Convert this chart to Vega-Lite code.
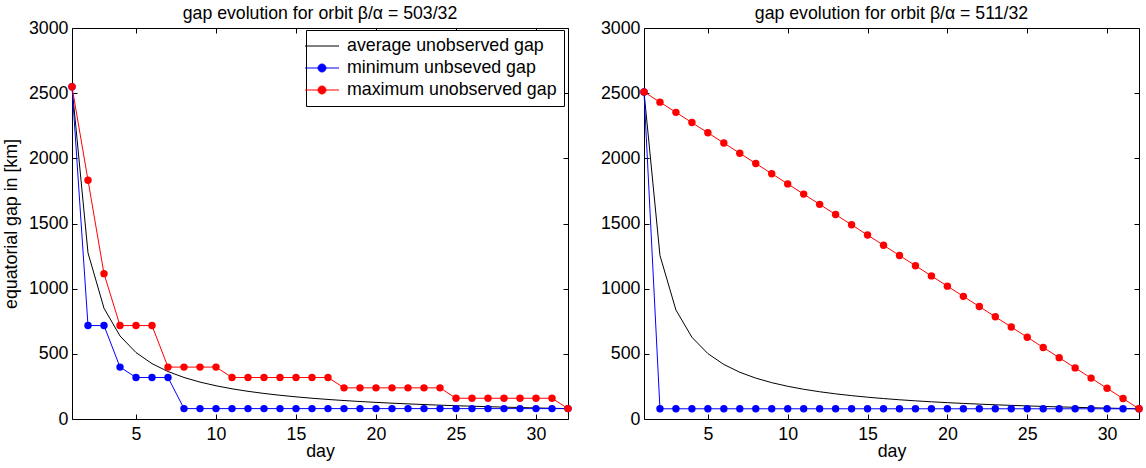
{
  "$schema": "https://vega.github.io/schema/vega-lite/v6.json",
  "padding": {"left": 2, "top": 5, "right": 0, "bottom": 0},
  "datasets": {
    "g503": [
      {"day": 1, "avg": 2549, "min": 2549, "max": 2549},
      {"day": 2, "avg": 1274.5, "min": 716.9, "max": 1832.2},
      {"day": 3, "avg": 849.7, "min": 716.9, "max": 1115.2},
      {"day": 4, "avg": 637.3, "min": 398.3, "max": 716.9},
      {"day": 5, "avg": 509.8, "min": 318.6, "max": 716.9},
      {"day": 6, "avg": 424.8, "min": 318.6, "max": 716.9},
      {"day": 7, "avg": 364.1, "min": 318.6, "max": 398.3},
      {"day": 8, "avg": 318.6, "min": 79.7, "max": 398.3},
      {"day": 9, "avg": 283.2, "min": 79.7, "max": 398.3},
      {"day": 10, "avg": 254.9, "min": 79.7, "max": 398.3},
      {"day": 11, "avg": 231.7, "min": 79.7, "max": 318.6},
      {"day": 12, "avg": 212.4, "min": 79.7, "max": 318.6},
      {"day": 13, "avg": 196.1, "min": 79.7, "max": 318.6},
      {"day": 14, "avg": 182.1, "min": 79.7, "max": 318.6},
      {"day": 15, "avg": 169.9, "min": 79.7, "max": 318.6},
      {"day": 16, "avg": 159.3, "min": 79.7, "max": 318.6},
      {"day": 17, "avg": 149.9, "min": 79.7, "max": 318.6},
      {"day": 18, "avg": 141.6, "min": 79.7, "max": 239.0},
      {"day": 19, "avg": 134.2, "min": 79.7, "max": 239.0},
      {"day": 20, "avg": 127.5, "min": 79.7, "max": 239.0},
      {"day": 21, "avg": 121.4, "min": 79.7, "max": 239.0},
      {"day": 22, "avg": 115.9, "min": 79.7, "max": 239.0},
      {"day": 23, "avg": 110.8, "min": 79.7, "max": 239.0},
      {"day": 24, "avg": 106.2, "min": 79.7, "max": 239.0},
      {"day": 25, "avg": 102.0, "min": 79.7, "max": 159.3},
      {"day": 26, "avg": 98.0, "min": 79.7, "max": 159.3},
      {"day": 27, "avg": 94.4, "min": 79.7, "max": 159.3},
      {"day": 28, "avg": 91.0, "min": 79.7, "max": 159.3},
      {"day": 29, "avg": 87.9, "min": 79.7, "max": 159.3},
      {"day": 30, "avg": 85.0, "min": 79.7, "max": 159.3},
      {"day": 31, "avg": 82.2, "min": 79.7, "max": 159.3},
      {"day": 32, "avg": 79.7, "min": 79.7, "max": 79.7}
    ],
    "g511": [
      {"day": 1, "avg": 2509.6, "min": 2509.6, "max": 2509.6},
      {"day": 2, "avg": 1254.8, "min": 78.4, "max": 2431.2},
      {"day": 3, "avg": 836.5, "min": 78.4, "max": 2352.8},
      {"day": 4, "avg": 627.4, "min": 78.4, "max": 2274.3},
      {"day": 5, "avg": 501.9, "min": 78.4, "max": 2195.9},
      {"day": 6, "avg": 418.3, "min": 78.4, "max": 2117.5},
      {"day": 7, "avg": 358.5, "min": 78.4, "max": 2039.1},
      {"day": 8, "avg": 313.7, "min": 78.4, "max": 1960.6},
      {"day": 9, "avg": 278.8, "min": 78.4, "max": 1882.2},
      {"day": 10, "avg": 251.0, "min": 78.4, "max": 1803.8},
      {"day": 11, "avg": 228.1, "min": 78.4, "max": 1725.4},
      {"day": 12, "avg": 209.1, "min": 78.4, "max": 1646.9},
      {"day": 13, "avg": 193.0, "min": 78.4, "max": 1568.5},
      {"day": 14, "avg": 179.3, "min": 78.4, "max": 1490.1},
      {"day": 15, "avg": 167.3, "min": 78.4, "max": 1411.7},
      {"day": 16, "avg": 156.9, "min": 78.4, "max": 1333.2},
      {"day": 17, "avg": 147.6, "min": 78.4, "max": 1254.8},
      {"day": 18, "avg": 139.4, "min": 78.4, "max": 1176.4},
      {"day": 19, "avg": 132.1, "min": 78.4, "max": 1098.0},
      {"day": 20, "avg": 125.5, "min": 78.4, "max": 1019.5},
      {"day": 21, "avg": 119.5, "min": 78.4, "max": 941.1},
      {"day": 22, "avg": 114.1, "min": 78.4, "max": 862.7},
      {"day": 23, "avg": 109.1, "min": 78.4, "max": 784.3},
      {"day": 24, "avg": 104.6, "min": 78.4, "max": 705.8},
      {"day": 25, "avg": 100.4, "min": 78.4, "max": 627.4},
      {"day": 26, "avg": 96.5, "min": 78.4, "max": 549.0},
      {"day": 27, "avg": 92.9, "min": 78.4, "max": 470.6},
      {"day": 28, "avg": 89.6, "min": 78.4, "max": 392.1},
      {"day": 29, "avg": 86.5, "min": 78.4, "max": 313.7},
      {"day": 30, "avg": 83.7, "min": 78.4, "max": 235.3},
      {"day": 31, "avg": 81.0, "min": 78.4, "max": 156.9},
      {"day": 32, "avg": 78.4, "min": 78.4, "max": 78.4}
    ]
  },
  "hconcat": [
    {
      "width": 496,
      "height": 391,
      "title": {"text": "gap evolution for orbit β/α = 503/32"},
      "data": {"name": "g503"},
      "transform": [{"fold": ["avg", "min", "max"], "as": ["series", "gap"]}],
      "encoding": {
        "x": {"field": "day", "type": "quantitative", "scale": {"domain": [1, 32], "nice": false, "zero": false}, "axis": null},
        "y": {"field": "gap", "type": "quantitative", "scale": {"domain": [0, 3000], "nice": false, "zero": true}, "axis": null},
        "color": {
          "field": "series", "type": "nominal",
          "scale": {"domain": ["avg", "min", "max"], "range": ["#000000", "#0000ff", "#ff0000"]},
          "legend": {
            "orient": "none", "legendX": 234, "legendY": 2, "title": null,
            "labelExpr": "datum.value == 'avg' ? 'average unobserved gap' : datum.value == 'min' ? 'minimum unbseved gap' : 'maximum unobserved gap'",
            "labelFontSize": 17.8, "labelFont": "Liberation Sans", "labelColor": "black", "labelLimit": 400,
            "strokeColor": "black", "fillColor": "white", "padding": 7,
            "symbolSize": 289, "labelOffset": 16, "rowPadding": 4, "symbolStrokeWidth": 1,
            "encode": {
              "symbols": {
                "update": {
                  "shape": {"signal": "datum.value == 'avg' ? 'M-2,0H2' : 'M-2,0H2M-0.47,0A0.47,0.47,0,1,0,0.47,0A0.47,0.47,0,1,0,-0.47,0Z'"},
                  "fill": {"signal": "datum.value == 'avg' ? 'transparent' : datum.value == 'min' ? '#0000ff' : '#ff0000'"},
                  "stroke": {"signal": "datum.value == 'avg' ? '#000000' : datum.value == 'min' ? '#0000ff' : '#ff0000'"},
                  "strokeWidth": {"value": 1},
                  "opacity": {"value": 1}
                }
              }
            }
          }
        }
      },
      "layer": [
        {
          "mark": {"type": "line", "strokeWidth": 1},
          "encoding": {
            "x": {"field": "day", "type": "quantitative", "scale": {"domain": [1, 32], "nice": false, "zero": false}, "axis": {"orient": "bottom", "values": [5, 10, 15, 20, 25, 30], "format": "d", "title": "day"}},
            "y": {"field": "gap", "type": "quantitative", "scale": {"domain": [0, 3000], "nice": false, "zero": true}, "axis": {"orient": "left", "values": [0, 500, 1000, 1500, 2000, 2500, 3000], "format": "d", "title": "equatorial gap in [km]", "labelFlush": false}}
          }
        },
        {"transform": [{"filter": "datum.series != 'avg'"}], "mark": {"type": "point", "filled": true, "size": 55, "opacity": 1}},
        {
          "mark": {"type": "point", "opacity": 0},
          "encoding": {
            "x": {"field": "day", "type": "quantitative", "scale": {"domain": [1, 32], "nice": false, "zero": false}, "axis": {"orient": "top", "values": [5, 10, 15, 20, 25, 30], "labels": false, "title": null}},
            "y": {"field": "gap", "type": "quantitative", "scale": {"domain": [0, 3000], "nice": false, "zero": true}, "axis": {"orient": "right", "values": [0, 500, 1000, 1500, 2000, 2500, 3000], "labels": false, "title": null}}
          }
        }
      ],
      "resolve": {"axis": {"x": "independent", "y": "independent"}}
    },
    {
      "width": 495,
      "height": 391,
      "title": {"text": "gap evolution for orbit β/α = 511/32"},
      "data": {"name": "g511"},
      "transform": [{"fold": ["avg", "min", "max"], "as": ["series", "gap"]}],
      "encoding": {
        "x": {"field": "day", "type": "quantitative", "scale": {"domain": [1, 32], "nice": false, "zero": false}, "axis": null},
        "y": {"field": "gap", "type": "quantitative", "scale": {"domain": [0, 3000], "nice": false, "zero": true}, "axis": null},
        "color": {
          "field": "series", "type": "nominal",
          "scale": {"domain": ["avg", "min", "max"], "range": ["#000000", "#0000ff", "#ff0000"]},
          "legend": null
        }
      },
      "layer": [
        {
          "mark": {"type": "line", "strokeWidth": 1},
          "encoding": {
            "x": {"field": "day", "type": "quantitative", "scale": {"domain": [1, 32], "nice": false, "zero": false}, "axis": {"orient": "bottom", "values": [5, 10, 15, 20, 25, 30], "format": "d", "title": "day"}},
            "y": {"field": "gap", "type": "quantitative", "scale": {"domain": [0, 3000], "nice": false, "zero": true}, "axis": {"orient": "left", "values": [0, 500, 1000, 1500, 2000, 2500, 3000], "format": "d", "title": null, "labelFlush": false}}
          }
        },
        {"transform": [{"filter": "datum.series != 'avg'"}], "mark": {"type": "point", "filled": true, "size": 55, "opacity": 1}},
        {
          "mark": {"type": "point", "opacity": 0},
          "encoding": {
            "x": {"field": "day", "type": "quantitative", "scale": {"domain": [1, 32], "nice": false, "zero": false}, "axis": {"orient": "top", "values": [5, 10, 15, 20, 25, 30], "labels": false, "title": null}},
            "y": {"field": "gap", "type": "quantitative", "scale": {"domain": [0, 3000], "nice": false, "zero": true}, "axis": {"orient": "right", "values": [0, 500, 1000, 1500, 2000, 2500, 3000], "labels": false, "title": null}}
          }
        }
      ],
      "resolve": {"axis": {"x": "independent", "y": "independent"}}
    }
  ],
  "spacing": 76,
  "bounds": "flush",
  "resolve": {"scale": {"color": "independent"}},
  "config": {
    "view": {"stroke": null},
    "font": "Liberation Sans",
    "axis": {
      "grid": false, "domainColor": "black", "domainWidth": 1, "tickColor": "black", "tickSize": -5, "tickWidth": 1,
      "labelColor": "black", "labelFontSize": 17.8, "labelFont": "Liberation Sans", "labelPadding": 11,
      "titleFontSize": 17.8, "titleFont": "Liberation Sans", "titleFontWeight": "normal", "titleColor": "black",
      "labelOverlap": false
    },
    "axisY": {"titlePadding": 8, "labelPadding": 9},
    "axisX": {"titlePadding": 0},
    "title": {"fontSize": 17.7, "fontWeight": "normal", "color": "black", "anchor": "middle", "frame": "group", "baseline": "bottom", "offset": -4, "font": "Liberation Sans"}
  }
}
